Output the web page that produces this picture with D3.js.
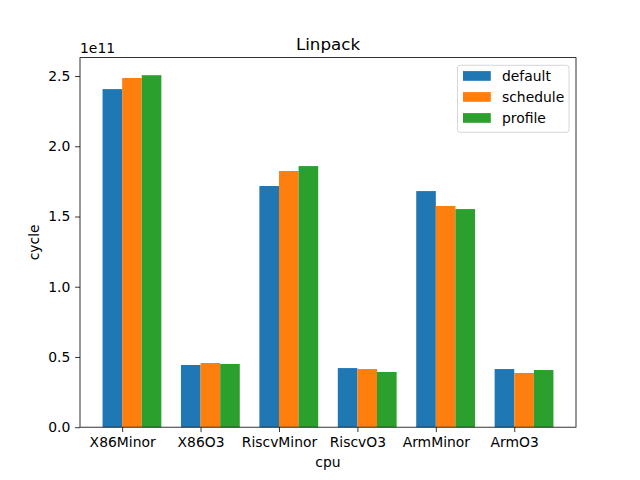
<!DOCTYPE html>
<html><head><meta charset="utf-8">
<script src="https://cdn.jsdelivr.net/npm/d3@7"></script>
<style>body{margin:0;background:#fff}svg{display:block}text{font-family:"DejaVu Sans",sans-serif;fill:#000}</style>
</head><body>
<script>
const categories = ["X86Minor","X86O3","RiscvMinor","RiscvO3","ArmMinor","ArmO3"];
const seriesNames = ["default","schedule","profile"];
const defaultVals = [2.407e11,0.443e11,1.717e11,0.421e11,1.681e11,0.414e11];
const scheduleVals = [2.486e11,0.457e11,1.824e11,0.414e11,1.575e11,0.386e11];
const profileVals = [2.506e11,0.450e11,1.859e11,0.393e11,1.553e11,0.407e11];
const yTicks = [0,0.5e11,1.0e11,1.5e11,2.0e11,2.5e11];
const yTickLabels = ["0.0","0.5","1.0","1.5","2.0","2.5"];
const colors = ["#1f77b4","#ff7f0e","#2ca02c"];
const series = [defaultVals, scheduleVals, profileVals];

const W=640,H=480,L=80,R=576,T=57.6,B=427.2;
const svg=d3.select("body").append("svg").attr("width",W).attr("height",H);
const bw=0.25;
const lo=-bw, hi=(categories.length-1)+bw*2.0;
const pad=(hi-lo)*0.05;
const x=d3.scaleLinear().domain([lo-pad,hi+pad]).range([L,R]);
const maxV=d3.max(series.flat());
const y=d3.scaleLinear().domain([0,maxV*1.05]).range([B,T]);

series.forEach((vals,j)=>{
  svg.append("g").selectAll("rect").data(vals).join("rect")
    .attr("x",(d,i)=>x(i+j*bw-bw))
    .attr("width",(d,i)=>x(i+j*bw)-x(i+j*bw-bw))
    .attr("y",d=>y(d)).attr("height",d=>y(0)-y(d))
    .attr("fill",colors[j]);
});

const xAxis=d3.axisBottom(x).tickValues(d3.range(categories.length)).tickFormat(i=>categories[i]).tickSize(4.86).tickPadding(4.9);
const gx=svg.append("g").attr("transform",`translate(0,${B})`).call(xAxis);
const yAxis=d3.axisLeft(y).tickValues(yTicks).tickFormat((d,i)=>yTickLabels[i]).tickSize(4.86).tickPadding(4.9);
const gy=svg.append("g").attr("transform",`translate(${L},0)`).call(yAxis);
[gx,gy].forEach(g=>{g.select(".domain").remove();g.selectAll("line").attr("stroke","#000").attr("stroke-width",0.8);g.selectAll("text").attr("font-size",13.9).attr("font-family","DejaVu Sans").attr("fill","#000");});

svg.append("rect").attr("x",L).attr("y",T).attr("width",R-L).attr("height",B-T).attr("fill","none").attr("stroke","#000").attr("stroke-width",0.8);

svg.append("text").attr("x",(L+R)/2).attr("y",50).attr("text-anchor","middle").attr("font-size",16.7).text("Linpack");
svg.append("text").attr("x",(L+R)/2).attr("y",467).attr("text-anchor","middle").attr("font-size",13.9).text("cpu");
svg.append("text").attr("transform",`translate(38.5,${(T+B)/2}) rotate(-90)`).attr("text-anchor","middle").attr("font-size",13.9).text("cycle");
svg.append("text").attr("x",L).attr("y",T-5).attr("font-size",13.9).text("1e11");

const lg=svg.append("g");
lg.append("rect").attr("x",457.5).attr("y",65.3).attr("width",111.5).attr("height",67).attr("rx",2.8).attr("fill","#fff").attr("fill-opacity",0.8).attr("stroke","#cccccc").attr("stroke-width",0.8);
seriesNames.forEach((n,j)=>{
  const cy=76+j*21;
  lg.append("rect").attr("x",463).attr("y",cy-4.9).attr("width",27.8).attr("height",9.7).attr("fill",colors[j]);
  lg.append("text").attr("x",502).attr("y",cy+5).attr("font-size",13.9).text(n);
});
</script>
</body></html>
